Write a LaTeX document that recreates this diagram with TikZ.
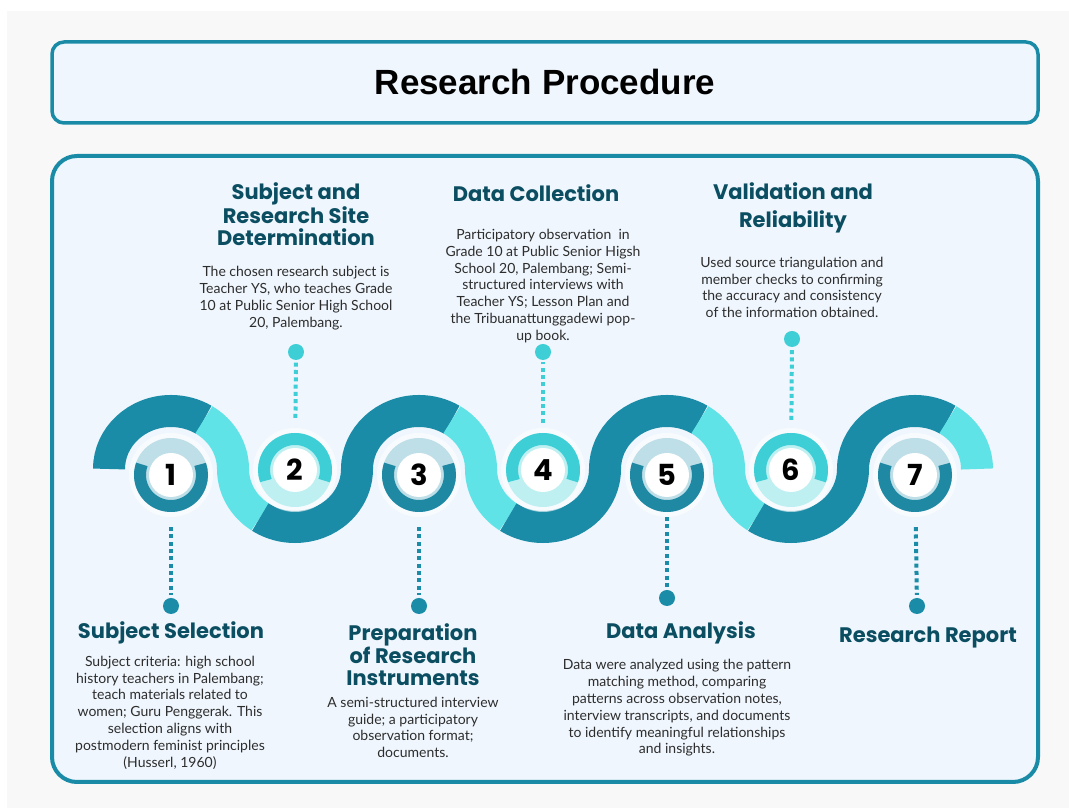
\documentclass[tikz,border=0pt]{standalone}
\usepackage{fontspec}
\setmainfont{Lato}
\newfontfamily\headfont{Poppins}
\newfontfamily\titlefont{Liberation Sans}
\usepackage{xcolor}
\definecolor{pagegray}{RGB}{248, 248, 248}
\definecolor{panel}{RGB}{239, 246, 253}
\definecolor{frame}{RGB}{26, 139, 166}
\definecolor{deepteal}{RGB}{27, 140, 167}
\definecolor{aqua}{RGB}{95, 227, 230}
\definecolor{ringteal}{RGB}{31, 136, 163}
\definecolor{paleteal}{RGB}{190, 222, 232}
\definecolor{ringaqua}{RGB}{62, 207, 214}
\definecolor{paleaqua}{RGB}{190, 240, 242}
\definecolor{heading}{RGB}{11, 78, 98}
\definecolor{bodytext}{RGB}{45, 45, 45}
\usepackage{tikz}
\usetikzlibrary{calc}
% step marker: number, centre, ring colour, pale colour, start angle of the ring arc
\newcommand{\stepmark}[5]{%
  \fill[white, opacity=0.6] (#2) circle[radius=42];
  \node[ringbase, fill=#4] (n#1) at (#2) {};
  \draw[#3, line width=12pt] ($(#2)+(#5:31)$) arc[start angle=#5, delta angle=220, radius=31];
  \node[numdisk] (num#1) at (#2) {#1};
}

\begin{document}
\begin{tikzpicture}[
  x=1pt, y=1pt,
  panelbox/.style={draw=frame, fill=panel, line width=4pt, inner sep=0pt},
  darkband/.style={draw=deepteal, line width=32pt},
  lightband/.style={draw=aqua, line width=32pt},
  ringbase/.style={circle, minimum size=74pt, inner sep=0pt},
  numdisk/.style={circle, fill=white, minimum size=44pt, inner sep=0pt, font=\headfont\bfseries\fontsize{29}{29}\selectfont},
  headtext/.style={font=\headfont\bfseries\fontsize{21}{22}\selectfont, text=heading, align=center},
  bodytxt/.style={font=\fontsize{14}{16.8}\selectfont, text=bodytext, align=center},
  tealdots/.style={draw=deepteal, line width=4pt, dash pattern=on 4pt off 3.3pt},
  aquadots/.style={draw=ringaqua, line width=4pt, dash pattern=on 4pt off 3.3pt},
  tealpin/.style={circle, fill=deepteal, minimum size=16pt, inner sep=0pt},
  aquapin/.style={circle, fill=ringaqua, minimum size=16pt, inner sep=0pt}
]
\useasboundingbox (0,0) rectangle (1069,808);
\fill[white] (0,0) rectangle (1069,808);
\fill[pagegray] (7,0) rectangle (1069,797);

% Title bar and main panel
\node[panelbox, line width=3.5pt, rounded corners=12pt, minimum width=986pt, minimum height=81pt,
  font=\titlefont\bfseries\fontsize{35}{35}\selectfont] (title) at (545,725.5) {Research Procedure};
\node[panelbox, rounded corners=25pt, minimum width=986pt, minimum height=626pt] (panel) at (545,339) {};

% Wave band
\coordinate (c1) at (171,339);
\coordinate (c2) at (295,339);
\coordinate (c3) at (419,339);
\coordinate (c4) at (543,339);
\coordinate (c5) at (667,339);
\coordinate (c6) at (791,339);
\coordinate (c7) at (915,339);
\draw[darkband] ($(c1)+(180:62 and 58)$) arc[start angle=180, end angle=58, x radius=62, y radius=58];
\draw[lightband] ($(c1)+(58:62 and 58)$) arc[start angle=58, end angle=0, x radius=62, y radius=58]
  arc[start angle=180, end angle=236, x radius=62, y radius=58];
\draw[darkband] ($(c2)+(236:62 and 58)$) arc[start angle=236, end angle=360, x radius=62, y radius=58]
  arc[start angle=180, end angle=58, x radius=62, y radius=58];
\draw[lightband] ($(c3)+(58:62 and 58)$) arc[start angle=58, end angle=0, x radius=62, y radius=58]
  arc[start angle=180, end angle=236, x radius=62, y radius=58];
\draw[darkband] ($(c4)+(236:62 and 58)$) arc[start angle=236, end angle=360, x radius=62, y radius=58]
  arc[start angle=180, end angle=58, x radius=62, y radius=58];
\draw[lightband] ($(c5)+(58:62 and 58)$) arc[start angle=58, end angle=0, x radius=62, y radius=58]
  arc[start angle=180, end angle=236, x radius=62, y radius=58];
\draw[darkband] ($(c6)+(236:62 and 58)$) arc[start angle=236, end angle=360, x radius=62, y radius=58]
  arc[start angle=180, end angle=58, x radius=62, y radius=58];
\draw[lightband] ($(c7)+(58:62 and 58)$) arc[start angle=58, end angle=0, x radius=62, y radius=58];

% Step markers
\stepmark{1}{171,333}{ringteal}{paleteal}{160}
\stepmark{2}{295,338}{ringaqua}{paleaqua}{-20}
\stepmark{3}{419,333}{ringteal}{paleteal}{160}
\stepmark{4}{543,338}{ringaqua}{paleaqua}{-20}
\stepmark{5}{667,333}{ringteal}{paleteal}{160}
\stepmark{6}{791,338}{ringaqua}{paleaqua}{-20}
\stepmark{7}{915,333}{ringteal}{paleteal}{160}

% Pins
\node[tealpin] (d1) at (171,202) {};
\node[aquapin] (d2) at (296,456) {};
\node[tealpin] (d3) at (419,202) {};
\node[aquapin] (d4) at (543,456) {};
\node[tealpin] (d5) at (667,210) {};
\node[aquapin] (d6) at (792,469) {};
\node[tealpin] (d7) at (917,202) {};

% Step texts
\node[headtext] (h1) at (171,175) {Subject Selection};
\node[bodytxt] (t1) at (170,95.5) {Subject criteria: high school\\history teachers in Palembang;\\teach materials related to\\women; Guru Penggerak. This\\selection aligns with\\postmodern feminist principles\\(Husserl, 1960)};
\node[headtext] (h2) at (296,594) {Subject and\\Research Site\\Determination};
\node[bodytxt] (t2) at (296,510) {The chosen research subject is\\Teacher YS, who teaches Grade\\10 at Public Senior High School\\20, Palembang.};
\node[headtext] (h3) at (413,153) {Preparation\\of Research\\Instruments};
\node[bodytxt] (t3) at (413,80.5) {A semi-structured interview\\guide; a participatory\\observation format;\\documents.};
\node[headtext] (h4) at (536,615) {Data Collection};
\node[bodytxt] (t4) at (543,522) {Participatory observation~ in\\Grade 10 at Public Senior Higsh\\School 20, Palembang; Semi-\\structured interviews with\\Teacher YS; Lesson Plan and\\the Tribuanattunggadewi pop-\\up book.};
\node[headtext] (h5) at (681,175) {Data Analysis};
\node[bodytxt] (t5) at (677,100) {Data were analyzed using the pattern\\matching method, comparing\\patterns across observation notes,\\interview transcripts, and documents\\to identify meaningful relationships\\and insights.};
\node[headtext, font=\headfont\bfseries\fontsize{21}{28}\selectfont] (h6) at (793,600.5) {Validation and\\Reliability};
\node[bodytxt] (t6) at (792,520.5) {Used source triangulation and\\member checks to confirming\\the accuracy and consistency\\of the information obtained.};
\node[headtext] (h7) at (928,170) {Research Report};

% Connections
\draw[tealdots, shorten <=15pt, shorten >=3pt] (n1) -- (d1);
\draw[aquadots, shorten <=15pt, shorten >=2pt] (n2) -- (d2);
\draw[tealdots, shorten <=15pt, shorten >=3pt] (n3) -- (d3);
\draw[aquadots, shorten <=10pt, shorten >=2pt] (n4) -- (d4);
\draw[tealdots, shorten <=5pt, shorten >=1pt] (n5) -- (d5);
\draw[aquadots, shorten <=13pt, shorten >=1pt] (n6) -- (d6);
\draw[tealdots, shorten <=15pt, shorten >=3pt] (n7) -- (d7);

\end{tikzpicture}
\end{document}
